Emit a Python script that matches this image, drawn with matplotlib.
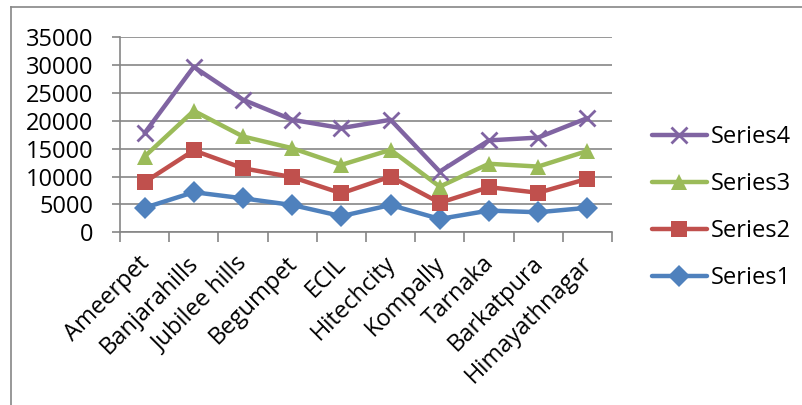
import matplotlib
matplotlib.use('Agg')
import matplotlib.pyplot as plt
from matplotlib.lines import Line2D
from matplotlib.transforms import ScaledTranslation

plt.rcParams['font.family'] = ['Open Sans', 'DejaVu Sans']

places = ['Ameerpet', 'Banjarahills', 'Jubilee hills', 'Begumpet', 'ECIL',
          'Hitechcity', 'Kompally', 'Tarnaka', 'Barkatpura', 'Himayathnagar']

# plotted (stacked) values
series1 = [4400, 7200, 6100, 4900, 2900, 4900, 2400, 3900, 3600, 4400]
series2 = [9000, 14700, 11500, 9900, 7000, 10000, 5300, 8100, 7100, 9600]
series3 = [13600, 21800, 17200, 15100, 12100, 14800, 8200, 12300, 11800, 14600]
series4 = [17800, 29700, 23800, 20200, 18700, 20200, 10900, 16500, 17000, 20500]

names = ['Series1', 'Series2', 'Series3', 'Series4']
colors = ['#4F81BD', '#C0504D', '#9BBB59', '#8064A2']
markers = ['D', 's', '^', 'x']
msizes = [11.5, 11.5, 12, 12]

fig = plt.figure(figsize=(8.02, 4.05), dpi=100)
ax = fig.add_axes([0.1496, 0.4264, 0.6134, 0.4815])

x = list(range(len(places)))
for vals, name, c, m, ms in zip([series1, series2, series3, series4], names, colors, markers, msizes):
    ax.plot(x, vals, color=c, lw=3.2, marker=m, ms=ms, mew=2 if m == 'x' else 0,
            mec=c, mfc=c, label=name, solid_capstyle='round', solid_joinstyle='round')

fs = 17
ax.set_ylim(0, 35000)
ax.set_yticks(range(0, 35001, 5000))
ax.set_xlim(-0.5, len(places) - 0.5)
ax.set_xticks(x)
ax.set_xticklabels(places, rotation=45, ha='right', rotation_mode='anchor', fontsize=fs)
ax.set_xticks([i - 0.5 for i in range(len(places) + 1)], minor=True)
ax.tick_params(axis='x', which='major', length=0, pad=14)
ax.tick_params(axis='x', which='minor', length=7, width=1.2, color='#868686', direction='out')
ax.tick_params(axis='y', length=6, width=1.2, color='#868686', labelsize=fs, pad=13)
# nudge category labels a little to the left (after tick_params, which resets transforms)
shift = ScaledTranslation(-7 / 100, 0, fig.dpi_scale_trans)
for lab in ax.get_xticklabels():
    lab.set_transform(lab.get_transform() + shift)
ax.yaxis.grid(True, color='#868686', lw=1.2)
ax.set_axisbelow(True)
for s in ['top', 'right']:
    ax.spines[s].set_visible(False)
for s in ['left', 'bottom']:
    ax.spines[s].set_color('#868686')
    ax.spines[s].set_linewidth(1.2)

h, l = ax.get_legend_handles_labels()
leg = ax.legend(h[::-1], l[::-1], loc='center left', bbox_to_anchor=(1.081, 0.127),
                frameon=False, fontsize=fs, handlelength=2.33, handletextpad=0.17,
                labelspacing=0.98, borderaxespad=0, borderpad=0)

# chart frame (top and left edges)
fig.add_artist(Line2D([11 / 802, 1], [1 - 7 / 405, 1 - 7 / 405], color='#868686', lw=1.2))
fig.add_artist(Line2D([11 / 802, 11 / 802], [0, 1 - 7 / 405], color='#868686', lw=1.2))

fig.savefig('out.png', dpi=100, facecolor='white')
